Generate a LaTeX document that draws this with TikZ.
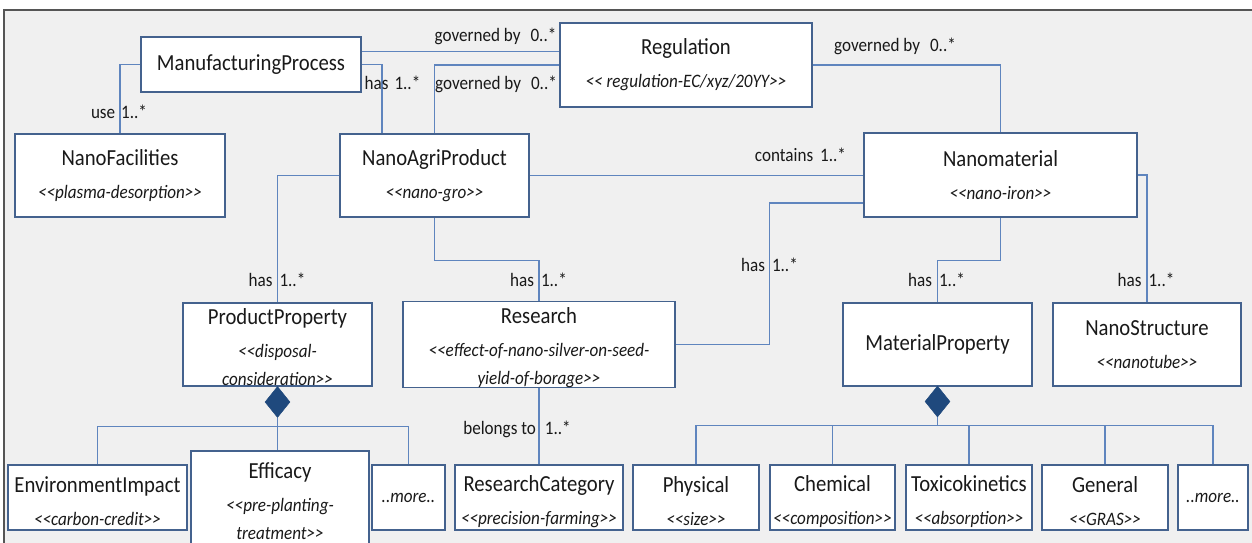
\documentclass[tikz,border=0pt]{standalone}
\usepackage{fontspec}
\setmainfont{Carlito}[FakeStretch=0.9]
\usetikzlibrary{shapes.geometric}
\definecolor{bgc}{RGB}{240,240,240}
\definecolor{framec}{RGB}{85,85,85}
\definecolor{boxc}{RGB}{68,98,142}
\definecolor{connc}{RGB}{95,133,190}
\definecolor{diac}{RGB}{31,73,125}
\definecolor{txtc}{RGB}{25,25,25}
\newcommand\ttlf{\fontsize{23}{28}\selectfont\upshape}
\newcommand\subf{\fontsize{19}{28}\selectfont\itshape}
\newcommand\lblf{\fontsize{19}{22}\selectfont\upshape}
\newcommand\LL{<\kern0pt<}
\newcommand\GG{>\kern0pt>}
\newcommand\dn{\rule{0pt}{24pt}}
\begin{document}
\begin{tikzpicture}[x=1pt,y=-1pt,
  box/.style={draw=boxc, line width=1.5pt, fill=white, inner sep=0pt, align=center,
    text=txtc, font=\subf, minimum height=83pt},
  small/.style={minimum height=65pt},
  conn/.style={draw=connc, line width=1.3pt},
  lbl/.style={font=\lblf, text=txtc, anchor=base, inner sep=0pt},
  comp/.style={diamond, fill=diac, draw=diac, line width=0.5pt, inner sep=0pt,
    minimum width=25pt, minimum height=31pt}]
\useasboundingbox (0,0) rectangle (1252,542);
\clip (0,0) rectangle (1252,542);
\fill[white] (0,0) rectangle (1252,542);
\fill[bgc] (4,10) rectangle (1260,550);
\draw[framec, line width=1.5pt] (4,560) -- (4,10) -- (1260,10);

\node[box, minimum width=220pt, minimum height=55pt] (mp) at (251,64.5) {\ttlf ManufacturingProcess};
\node[box, minimum width=210pt] (nf) at (120,175.5) {{\ttlf NanoFacilities}\\[5pt]\LL plasma-desorption\GG};
\node[box, minimum width=189pt] (nap) at (434.5,175.5) {{\ttlf NanoAgriProduct}\\[5pt]\LL nano-gro\GG};
\node[box, minimum width=252pt, minimum height=84pt] (reg) at (686,65) {{\ttlf Regulation}\\[5pt]\LL\ regulation-EC/xyz/20YY\GG};
\node[box, minimum width=273pt, minimum height=84pt] (nm) at (1000.5,175) {{\ttlf Nanomaterial}\\[5pt]\LL nano-iron\GG};
\node[box, minimum width=189pt] (pp) at (277.5,344.5) {{\ttlf\rule{0pt}{22pt}ProductProperty}\\[5pt]\LL disposal-\\consideration\GG};
\node[box, minimum width=272pt] (res) at (539,344.5) {{\ttlf\rule{0pt}{22pt}Research}\\[5pt]\LL effect-of-nano-silver-on-seed-\\yield-of-borage\GG};
\node[box, minimum width=189pt] (matp) at (937.5,344.5) {\ttlf MaterialProperty};
\node[box, minimum width=188pt] (ns) at (1147,344.5) {{\ttlf NanoStructure}\\[5pt]\LL nanotube\GG};

\node[box, small, minimum width=179pt] (ei) at (97.5,497.5) {{\ttlf\dn EnvironmentImpact}\\[5pt]\LL carbon-credit\GG};
\node[box, minimum width=178pt, minimum height=100pt] (eff) at (280,501) {{\ttlf Efficacy}\\[5pt]\LL pre-planting-\\treatment\GG};
\node[box, small, minimum width=73pt] (more1) at (408.5,497.5) {..more..};
\node[box, small, minimum width=168pt] (rc) at (539,497.5) {{\ttlf\dn ResearchCategory}\\[5pt]\LL precision-farming\GG};
\node[box, small, minimum width=126pt] (phy) at (696,497.5) {{\ttlf\dn Physical}\\[5pt]\LL size\GG};
\node[box, small, minimum width=125pt] (chem) at (832.5,497.5) {{\ttlf\dn Chemical}\\[5pt]\LL composition\GG};
\node[box, small, minimum width=126pt] (tox) at (969,497.5) {{\ttlf\dn Toxicokinetics}\\[5pt]\LL absorption\GG};
\node[box, small, minimum width=126pt] (gen) at (1105,497.5) {{\ttlf\dn General}\\[5pt]\LL GRAS\GG};
\node[box, small, minimum width=70pt] (more2) at (1213,497.5) {..more..};

\node[comp] (ppd) at (277.5,402) {};
\node[comp] (matpd) at (937.5,401.5) {};

% connectors
\draw[conn] (mp.west) -| (nf.north);
\draw[conn] ([yshift=-15pt]mp.north east) -- ([yshift=-15pt]mp.north east -| reg.west);
\draw[conn] (mp.east) -| ([xshift=-52.5pt]nap.north);
\draw[conn] (nap.north) |- (reg.west);
\draw[conn] (reg.east) -| (nm.north);
\draw[conn] (nap.east) -- (nap.east -| nm.west);
\draw[conn] (nap.west) -| (pp.north);
\draw[conn] (nap.south) -- ++(0,43) -| (res.north);
\draw[conn] ([yshift=-28pt]nm.west) -- ++(-94,0) |- (res.east);
\draw[conn] (nm.south) -- ++(0,43) -| (matp.north);
\draw[conn] (nm.east) -| (ns.north);
\draw[conn] (res.south) -- (rc.north);

\coordinate (ppbus) at ([yshift=-9pt]ppd.south);
\draw[conn] (ei.north) |- (ppbus) -| (more1.north);
\draw[conn] (ppd.south) -- (ppd.south |- eff.north);
\coordinate (mbus) at ([yshift=-8pt]matpd.south);
\draw[conn] (phy.north) |- (mbus) -| (more2.north);
\draw[conn] (matpd.south) -- (mbus);
\draw[conn] (chem.north) -- (chem.north |- mbus);
\draw[conn] (tox.north) -- (tox.north |- mbus);
\draw[conn] (gen.north) -- (gen.north |- mbus);

% labels
\node[lbl] (l1) at (119,118) {use\hspace{6pt}1..*};
\node[lbl] (l2) at (495.5,41) {governed by\hspace{10pt}0..*};
\node[lbl] (l3) at (392.5,89) {has\hspace{6pt}1..*};
\node[lbl] (l4) at (496,89) {governed by\hspace{10pt}0..*};
\node[lbl] (l5) at (895,51) {governed by\hspace{10pt}0..*};
\node[lbl] (l6) at (800.5,161) {contains\hspace{7pt}1..*};
\node[lbl] (l7) at (277,286) {has\hspace{7pt}1..*};
\node[lbl] (l8) at (538.5,286) {has\hspace{7pt}1..*};
\node[lbl] (l9) at (769.5,271) {has\hspace{7pt}1..*};
\node[lbl] (l10) at (936.5,286) {has\hspace{7pt}1..*};
\node[lbl] (l11) at (1146,286) {has\hspace{7pt}1..*};
\node[lbl] (l12) at (517,434) {belongs to\hspace{9pt}1..*};
\end{tikzpicture}
\end{document}
